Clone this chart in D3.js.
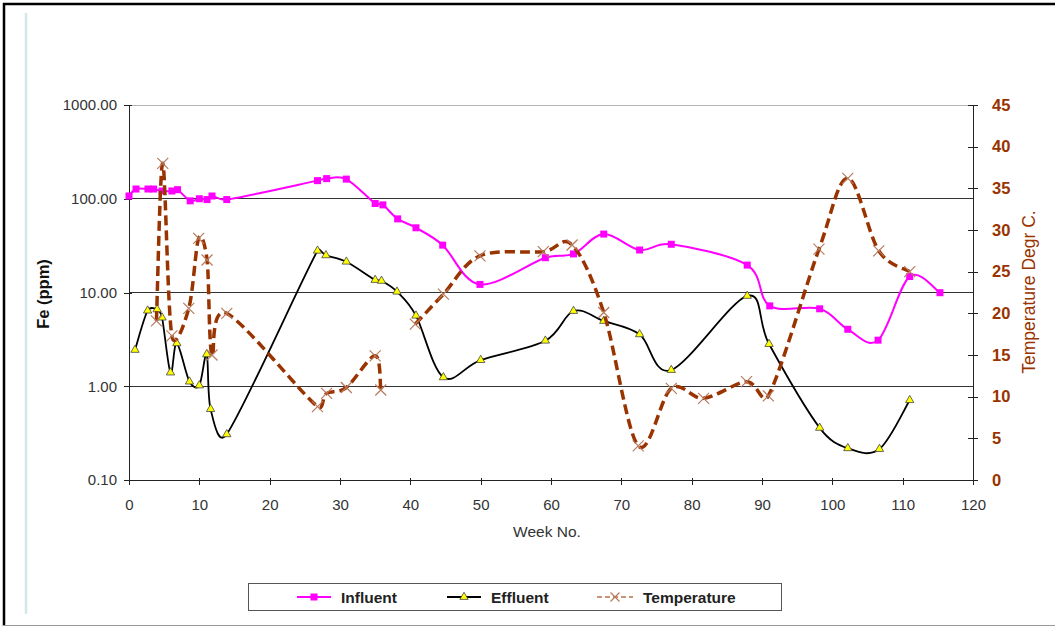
<!DOCTYPE html>
<html><head><meta charset="utf-8">
<script src="https://cdn.jsdelivr.net/npm/d3@7"></script>
<style>
body{margin:0;background:#fff}
svg{display:block}
text{font-family:Arial,"Liberation Sans",sans-serif}
</style>
</head><body>
<svg id="c" width="1055" height="627"></svg>
<script>
// ---- data ----
const influentWeeks = [0, 1, 2.7, 3.5, 4.7, 6.1, 6.9, 8.7, 10, 11.1, 11.8, 13.9, 26.8, 28.1, 30.9, 35, 36.1, 38.2, 40.8, 44.6, 49.9, 59.2, 63.2, 67.5, 72.6, 77.1, 87.9, 91.1, 98.2, 102.2, 106.5, 111, 115.3];
const influentFe    = [107, 127, 127, 127, 121, 121, 125, 95, 100, 98, 107, 98, 156, 164, 162, 89, 86, 61, 49, 32, 12.2, 23.5, 25.8, 42, 28.4, 32.7, 19.6, 7.2, 6.7, 4.05, 3.1, 14.8, 9.95];

const effluentWeeks = [0.85, 2.65, 4.0, 4.7, 5.9, 6.8, 8.6, 10, 11.05, 11.6, 13.9, 26.8, 28, 30.9, 35, 35.9, 38.1, 40.8, 44.7, 50, 59.2, 63.2, 67.5, 72.6, 77.1, 87.9, 91, 98.2, 102.2, 106.7, 111];
const effluentFe    = [2.44, 6.4, 6.6, 5.4, 1.4, 2.87, 1.12, 1.02, 2.19, 0.57, 0.307, 27.9, 24.9, 21.3, 13.6, 13.3, 10.2, 5.66, 1.245, 1.9, 3.06, 6.35, 4.97, 3.58, 1.49, 9.2, 2.82, 0.36, 0.218, 0.214, 0.71];

const tempWeeks = [3.9, 4.8, 6.1, 8.5, 9.9, 11.1, 11.8, 13.9, 26.8, 28.1, 30.9, 35, 35.8, 38.1, 40.7, 44.7, 49.9, 58.9, 63, 67.5, 72.4, 77.1, 81.7, 87.8, 90.9, 98.1, 102.2, 106.6, 111];
const tempC     = [19.1, 38.0, 17.3, 20.6, 29.0, 26.4, 15.0, 20.0, 8.8, 10.4, 11.1, 14.9, 10.8, null, 18.7, 22.3, 26.9, 27.4, 28.2, 20.1, 4.1, 11.0, 9.8, 11.8, 10.1, 27.7, 36.2, 27.5, 25.0];

const xTicks = [0, 10, 20, 30, 40, 50, 60, 70, 80, 90, 100, 110, 120];
const feTicks = [0.1, 1, 10, 100, 1000];
const tempTicks = [0, 5, 10, 15, 20, 25, 30, 35, 40, 45];
const seriesNames = ["Influent", "Effluent", "Temperature"];

// ---- spreadsheet-style smoothed line (bezier, tension 1/6, handles capped at half segment) ----
function SmoothCurve(context) { this._context = context; }
SmoothCurve.prototype = {
  areaStart() {}, areaEnd() {},
  lineStart() { this._pts = []; },
  point(x, y) { this._pts.push([+x, +y]); },
  lineEnd() {
    const p = this._pts, c = this._context, n = p.length;
    if (!n) return;
    c.moveTo(p[0][0], p[0][1]);
    const dist = (a, b) => Math.hypot(b[0] - a[0], b[1] - a[1]);
    for (let i = 0; i < n - 1; i++) {
      const p0 = p[Math.max(i - 1, 0)], p1 = p[i], p2 = p[i + 1], p3 = p[Math.min(i + 2, n - 1)];
      const d12 = dist(p1, p2), d02 = dist(p0, p2), d13 = dist(p1, p3);
      const f1 = d02 > 0 ? Math.min(1 / 6, 0.5 * d12 / d02) : 0;
      const f2 = d13 > 0 ? Math.min(1 / 6, 0.5 * d12 / d13) : 0;
      c.bezierCurveTo(
        p1[0] + (p2[0] - p0[0]) * f1, p1[1] + (p2[1] - p0[1]) * f1,
        p2[0] - (p3[0] - p1[0]) * f2, p2[1] - (p3[1] - p1[1]) * f2,
        p2[0], p2[1]);
    }
  }
};
const curve = ctx => new SmoothCurve(ctx);

// ---- setup ----
const svg = d3.select("#c");
const L = 129, R = 973, T = 105, B = 480;
const x = d3.scaleLinear().domain([0, 120]).range([L, R]);
const yL = d3.scaleLog().domain([0.1, 1000]).range([B, T]);
const yR = d3.scaleLinear().domain([0, 45]).range([B, T]);

// frame
svg.append("line").attr("x1",4).attr("x2",4).attr("y1",3).attr("y2",626).attr("stroke","#000").attr("stroke-width",2.5);
svg.append("line").attr("x1",3).attr("x2",1055).attr("y1",4).attr("y2",4).attr("stroke","#000").attr("stroke-width",2.5);
svg.append("line").attr("x1",3).attr("x2",1055).attr("y1",625.5).attr("y2",625.5).attr("stroke","#999").attr("stroke-width",1);
svg.append("line").attr("x1",26).attr("x2",26).attr("y1",13).attr("y2",614).attr("stroke","#d3e6ea").attr("stroke-width",2.5);

// gridlines
svg.append("g").selectAll("line").data(feTicks.filter(d => d > 0.1)).join("line")
  .attr("x1", L).attr("x2", R).attr("y1", d => yL(d)).attr("y2", d => yL(d))
  .attr("stroke", d => d === 1000 ? "#b5b5b5" : "#333").attr("stroke-width", 1)
  .attr("shape-rendering","crispEdges");

// axes
const gx = svg.append("g").attr("transform", `translate(0,${B})`)
  .call(d3.axisBottom(x).tickValues(xTicks).tickSize(5).tickFormat(d3.format("d")));
gx.selectAll(".tick line").attr("y1", -2).attr("stroke","#222");
gx.selectAll("text").attr("dy", null).attr("y", 30).attr("font-size", 15).attr("fill", "#333");
gx.select(".domain").attr("stroke","#222");

const gl = svg.append("g").attr("transform", `translate(${L},0)`)
  .call(d3.axisLeft(yL).tickValues(feTicks).tickSize(5).tickPadding(7).tickFormat(d3.format(".2f")));
gl.selectAll(".tick line").attr("x1", 3).attr("stroke","#222");
gl.selectAll("text").attr("font-size", 15).attr("fill", "#333");
gl.select(".domain").attr("stroke","#222").attr("d", `M0,${T}V${B}`);

const gr = svg.append("g").attr("transform", `translate(${R},0)`)
  .call(d3.axisRight(yR).tickValues(tempTicks).tickSize(5).tickPadding(14));
gr.selectAll(".tick line").attr("x1", -5).attr("stroke","#222");
gr.selectAll("text").attr("font-size", 16.5).attr("font-weight", "bold").attr("fill", "#993300");
gr.select(".domain").attr("stroke","#222").attr("d", `M0,${T}V${B}`);
svg.selectAll(".domain, .tick line").attr("shape-rendering","crispEdges");

// axis titles
svg.append("text").attr("x", 547).attr("y", 537).attr("text-anchor","middle")
  .attr("font-size", 15.5).attr("fill","#333").text("Week No.");
svg.append("text").attr("transform","translate(49,294) rotate(-90)").attr("text-anchor","middle")
  .attr("font-size", 16.5).attr("font-weight","bold").attr("fill","#111").text("Fe (ppm)");
svg.append("text").attr("transform","translate(1035,292) rotate(-90)").attr("text-anchor","middle")
  .attr("font-size", 17.5).attr("fill","#993300").text("Temperature Degr C.");

// ---- series ----
const inf = influentWeeks.map((w,i) => ({w, v: influentFe[i]}));
const eff = effluentWeeks.map((w,i) => ({w, v: effluentFe[i]}));
const tmp = tempWeeks.map((w,i) => ({w, v: tempC[i]}));

const infColor = "#ff00ff", effColor = "#000", tmpColor = "#993300";

svg.append("path").datum(inf).attr("fill","none").attr("stroke", infColor).attr("stroke-width", 2)
  .attr("d", d3.line().x(d => x(d.w)).y(d => yL(d.v)).curve(curve));
svg.append("g").selectAll("rect").data(inf).join("rect")
  .attr("x", d => x(d.w) - 3.5).attr("y", d => yL(d.v) - 3.5).attr("width", 7).attr("height", 7)
  .attr("fill", infColor);

svg.append("path").datum(eff).attr("fill","none").attr("stroke", effColor).attr("stroke-width", 1.8)
  .attr("d", d3.line().x(d => x(d.w)).y(d => yL(d.v)).curve(curve));
const tri = d3.symbol(d3.symbolTriangle, 30);
svg.append("g").selectAll("path").data(eff).join("path")
  .attr("transform", d => `translate(${x(d.w)},${yL(d.v)})`).attr("d", tri)
  .attr("fill", "#ffff00").attr("stroke", "#444").attr("stroke-width", 0.8);

svg.append("path").datum(tmp).attr("fill","none").attr("stroke", tmpColor).attr("stroke-width", 3.5)
  .attr("stroke-dasharray","10,5")
  .attr("d", d3.line().defined(d => d.v !== null).x(d => x(d.w)).y(d => yR(d.v)).curve(curve));
const xm = svg.append("g").selectAll("g").data(tmp.filter(d => d.v !== null)).join("g")
  .attr("transform", d => `translate(${x(d.w)},${yR(d.v)})`);
xm.append("path").attr("d","M-5.5,-5.5L5.5,5.5M-5.5,5.5L5.5,-5.5")
  .attr("stroke","#b87a5c").attr("stroke-width",1.2).attr("fill","none");

// ---- legend ----
const lg = svg.append("g");
lg.append("rect").attr("x", 248.5).attr("y", 583.5).attr("width", 533).attr("height", 27)
  .attr("fill","#fff").attr("stroke","#555").attr("stroke-width",1);
const ly = 597;
const items = [
  {name: seriesNames[0], x0: 297, tx: 341},
  {name: seriesNames[1], x0: 447, tx: 491},
  {name: seriesNames[2], x0: 597, tx: 643}
];
lg.append("line").attr("x1", items[0].x0).attr("x2", items[0].x0 + 34).attr("y1", ly).attr("y2", ly)
  .attr("stroke", infColor).attr("stroke-width", 2);
lg.append("rect").attr("x", items[0].x0 + 17 - 3.5).attr("y", ly - 3.5).attr("width", 7).attr("height", 7).attr("fill", infColor);
lg.append("line").attr("x1", items[1].x0).attr("x2", items[1].x0 + 34).attr("y1", ly).attr("y2", ly)
  .attr("stroke", effColor).attr("stroke-width", 1.8);
lg.append("path").attr("transform", `translate(${items[1].x0 + 17},${ly})`).attr("d", tri)
  .attr("fill","#ffff00").attr("stroke","#444").attr("stroke-width",0.8);
lg.append("line").attr("x1", items[2].x0).attr("x2", items[2].x0 + 36).attr("y1", ly).attr("y2", ly)
  .attr("stroke", "#b8714a").attr("stroke-width", 1.5).attr("stroke-dasharray","5,3");
lg.append("path").attr("transform", `translate(${items[2].x0 + 18},${ly})`)
  .attr("d","M-4.5,-4.5L4.5,4.5M-4.5,4.5L4.5,-4.5").attr("stroke","#b87a5c").attr("stroke-width",1.2);
lg.selectAll("text.lt").data(items).join("text").attr("class","lt")
  .attr("x", d => d.tx).attr("y", ly + 5.5).attr("font-size", 15.5).attr("font-weight","bold")
  .attr("fill","#222").text(d => d.name);
</script>
</body></html>
